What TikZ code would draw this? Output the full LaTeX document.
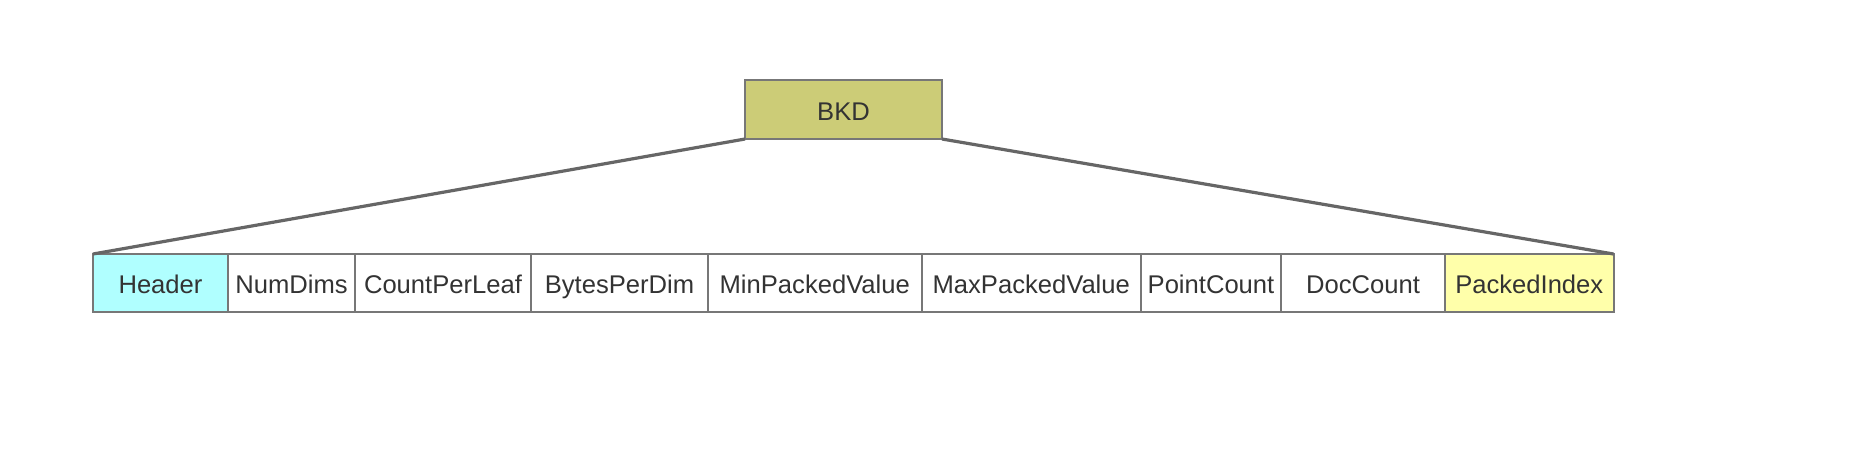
\documentclass[tikz,border=0pt]{standalone}
\usepackage{fontspec}
\setmainfont{Liberation Sans}
\usetikzlibrary{positioning}
\definecolor{bkdfill}{HTML}{CCCC77}
\definecolor{headfill}{HTML}{B0FFFF}
\definecolor{packfill}{HTML}{FFFFAA}
\definecolor{cellline}{HTML}{777777}
\definecolor{linkgray}{HTML}{666666}
\definecolor{textgray}{HTML}{333333}
\tikzset{
  field/.style={rectangle, draw=cellline, line width=1pt, fill=white, minimum height=29pt, inner sep=0pt, outer sep=0pt, text height=10.8pt, text depth=0pt, text=textgray, font=\fontsize{12.8}{14}\selectfont},
  root/.style={field, fill=bkdfill, minimum width=98.5pt, minimum height=29.5pt},
  link/.style={draw=linkgray, line width=1.6pt}
}

\begin{document}
\begin{tikzpicture}[x=0.5pt, y=-0.5pt]
    \useasboundingbox (0,0) rectangle (1874,452);

    % Nodo superior
    \node[root] (bkd) at (843.5,109.5) {BKD};

    % Campos del fichero
    \node[field, fill=headfill, minimum width=67.5pt, anchor=west] (header) at (93,283) {Header};
    \foreach \name/\prev/\txt/\w in {
        numdims/header/NumDims/63.5, countleaf/numdims/CountPerLeaf/88,
        bytesdim/countleaf/BytesPerDim/88.5, minpacked/bytesdim/MinPackedValue/106.75,
        maxpacked/minpacked/MaxPackedValue/109.75, pointcount/maxpacked/PointCount/70,
        doccount/pointcount/DocCount/82
    } {
        \node[field, minimum width=\w pt, right=0pt of \prev] (\name) {\txt};
    }
    \node[field, fill=packfill, minimum width=84.25pt, right=0pt of doccount] (packed) {PackedIndex};

    % Lineas de expansion
    \draw[link] (bkd.south west) -- (header.north west);
    \draw[link] (bkd.south east) -- (packed.north east);

\end{tikzpicture}
\end{document}
